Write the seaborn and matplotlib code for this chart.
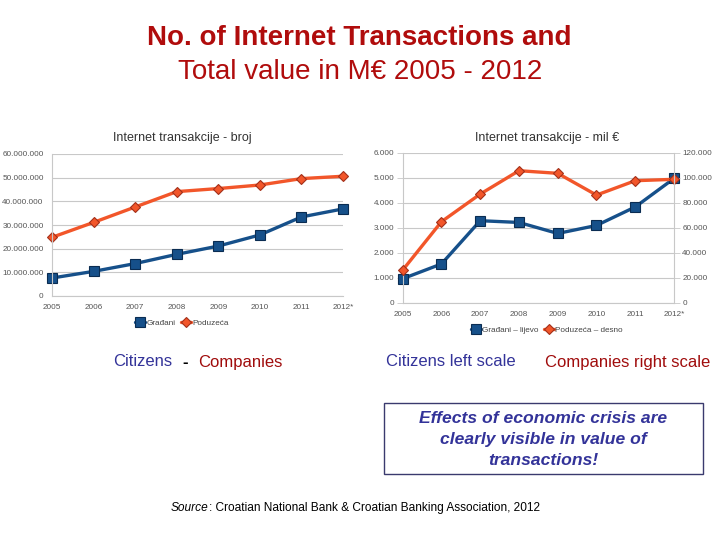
import matplotlib
matplotlib.use("Agg")
import matplotlib.pyplot as plt
import seaborn as sns
import pandas as pd
from matplotlib.patches import Rectangle
from matplotlib.lines import Line2D
from matplotlib.ticker import FuncFormatter

# ---------------- data ----------------
years = ["2005", "2006", "2007", "2008", "2009", "2010", "2011", "2012*"]
count_citizens = [7.6e6, 10.4e6, 13.7e6, 17.6e6, 21.1e6, 25.8e6, 33.4e6, 36.8e6]
count_companies = [24.8e6, 31.1e6, 37.6e6, 44.1e6, 45.4e6, 46.9e6, 49.6e6, 50.6e6]
value_citizens = [960, 1550, 3280, 3210, 2770, 3090, 3830, 4970]
value_companies = [26100, 64800, 86900, 105600, 103500, 86100, 97600, 98700]
count_ticks = [0, 10e6, 20e6, 30e6, 40e6, 50e6, 60e6]
value_left_ticks = [0, 1000, 2000, 3000, 4000, 5000, 6000]
value_right_ticks = [0, 20000, 40000, 60000, 80000, 100000, 120000]

sns.set_style("white")
plt.rcParams["font.family"] = ["Liberation Sans", "DejaVu Sans"]

NAVY = "#16508A"
NAVY_EDGE = "#0A2C52"
ORANGE = "#F2562A"
ORANGE_EDGE = "#A3301A"
GRID = "#C8C8C8"
TICK = "#555555"
DARKRED = "#B00C0C"
TEXTNAVY = "#333399"

idx = list(range(len(years)))
df_count = pd.DataFrame({"i": idx, "cit": count_citizens, "com": count_companies})
df_value = pd.DataFrame({"i": idx, "cit": value_citizens, "com": value_companies})

fig = plt.figure(figsize=(7.2, 5.4), dpi=100)
W, H = 720.0, 540.0


def fx(x):
    return x / W


def fy(y):
    return 1 - y / H


def dots(v, pos=None):
    return f"{int(round(v)):,}".replace(",", ".")


def style_axis(ax, ticks):
    ax.set_xlim(0, 7)
    ax.set_ylim(ticks[0], ticks[-1])
    ax.set_yticks(ticks)
    ax.yaxis.set_major_formatter(FuncFormatter(dots))
    ax.set_xticks(idx)
    ax.set_xticklabels(years)
    ax.grid(axis="y", color=GRID, linewidth=0.8)
    ax.grid(axis="x", visible=False)
    for s in ["top", "right"]:
        ax.spines[s].set_visible(False)
    for s in ["left", "bottom"]:
        ax.spines[s].set_color(GRID)
        ax.spines[s].set_linewidth(0.8)
    ax.tick_params(axis="both", labelsize=5.9, colors=TICK, length=4, width=0.6,
                   direction="out", pad=2)
    ax.tick_params(axis="y", color=GRID)
    ax.tick_params(axis="x", color=GRID)
    ax.set_xlabel("")
    ax.set_ylabel("")


line_kw_navy = dict(color=NAVY, marker="s", markersize=6.5, markeredgecolor=NAVY_EDGE,
                    markeredgewidth=0.8, linewidth=2.4)
line_kw_orange = dict(color=ORANGE, marker="D", markersize=4.8, markeredgecolor=ORANGE_EDGE,
                      markeredgewidth=0.8, linewidth=2.4)

# ---------------- left chart ----------------
axL = fig.add_axes([fx(52), fy(296), fx(343 - 52), (296 - 154) / H])
sns.lineplot(data=df_count, x="i", y="cit", ax=axL, legend=False, clip_on=False, **line_kw_navy)
sns.lineplot(data=df_count, x="i", y="com", ax=axL, legend=False, clip_on=False, **line_kw_orange)
style_axis(axL, count_ticks)
axL.set_axisbelow(True)

fig.text(fx(182.5), fy(138), "Internet transakcije - broj", ha="center", va="center",
         fontsize=9, color="#333333")
hL = [Line2D([0], [0], **line_kw_navy), Line2D([0], [0], **line_kw_orange)]
fig.legend(hL, ["Građani", "Poduzeća"], loc="center", bbox_to_anchor=(fx(182), fy(323)),
           ncol=2, frameon=False, fontsize=5.9, handlelength=1.2, handletextpad=0.2,
           columnspacing=0.6, labelcolor="#444444")

# ---------------- right chart ----------------
axR = fig.add_axes([fx(402.7), fy(302.7), fx(674 - 402.7), (302.7 - 152.7) / H])
sns.lineplot(data=df_value, x="i", y="cit", ax=axR, legend=False, clip_on=False, **line_kw_navy)
style_axis(axR, value_left_ticks)
axR2 = axR.twinx()
sns.lineplot(data=df_value, x="i", y="com", ax=axR2, legend=False, clip_on=False, **line_kw_orange)
axR2.set_ylim(value_right_ticks[0], value_right_ticks[-1])
axR2.set_yticks(value_right_ticks)
axR2.yaxis.set_major_formatter(FuncFormatter(dots))
axR2.grid(False)
for s in ["top", "left", "bottom"]:
    axR2.spines[s].set_visible(False)
axR2.spines["right"].set_visible(True)
axR2.spines["right"].set_color(GRID)
axR2.spines["right"].set_linewidth(0.8)
axR2.tick_params(axis="y", labelsize=5.9, labelcolor=TICK, color=GRID, length=4,
                 width=0.6, direction="out", pad=2)
axR2.set_ylabel("")

fig.text(fx(547.5), fy(137.5), "Internet transakcije - mil €", ha="center", va="center",
         fontsize=9, color="#333333")
hR = [Line2D([0], [0], **line_kw_navy), Line2D([0], [0], **line_kw_orange)]
fig.legend(hR, ["Građani – lijevo", "Poduzeća – desno"], loc="center",
           bbox_to_anchor=(fx(547), fy(330)), ncol=2, frameon=False, fontsize=5.9,
           handlelength=1.2, handletextpad=0.2, columnspacing=0.6, labelcolor="#444444")

# ---------------- headline ----------------
fig.text(fx(359), fy(38), "No. of Internet Transactions and", ha="center", va="center",
         fontsize=20, fontweight="bold", color=DARKRED)
fig.text(fx(360), fy(72), "Total value in M€ 2005 - 2012", ha="center", va="center",
         fontsize=20, color=DARKRED)

# ---------------- captions ----------------
BASE = 366.5
fig.text(fx(113), fy(BASE), "Citizens", ha="left", va="baseline", fontsize=12, color=TEXTNAVY)
fig.text(fx(185.5), fy(BASE), "-", ha="center", va="baseline", fontsize=12, color="black",
         fontweight="bold")
fig.text(fx(198), fy(BASE), "Companies", ha="left", va="baseline", fontsize=12, color="#A00C0C")
fig.text(fx(386), fy(BASE), "Citizens left scale", ha="left", va="baseline", fontsize=12,
         color=TEXTNAVY)
fig.text(fx(545), fy(BASE), "Companies right scale", ha="left", va="baseline", fontsize=12,
         color="#A00C0C")

# ---------------- box ----------------
box = Rectangle((fx(384), fy(474)), fx(703 - 384), (474 - 403) / H, transform=fig.transFigure,
                fill=False, edgecolor="#3A3A6E", linewidth=1.0)
fig.patches.append(box)
fig.text(fx(543), fy(439.5), "Effects of economic crisis are\nclearly visible in value of\ntransactions!",
         ha="center", va="center", fontsize=12.6, fontweight="bold", fontstyle="italic",
         color=TEXTNAVY, linespacing=1.48)

# ---------------- source ----------------
t1 = fig.text(fx(171), fy(508), "Source", ha="left", va="center", fontsize=8.6,
              fontstyle="italic", color="black")
renderer = fig.canvas.get_renderer()
bb = t1.get_window_extent(renderer=renderer)
fig.text(bb.x1 / (fig.dpi * fig.get_figwidth()), fy(508),
         ": Croatian National Bank & Croatian Banking Association, 2012",
         ha="left", va="center", fontsize=8.6, color="black")

fig.savefig("out.png", dpi=100)
